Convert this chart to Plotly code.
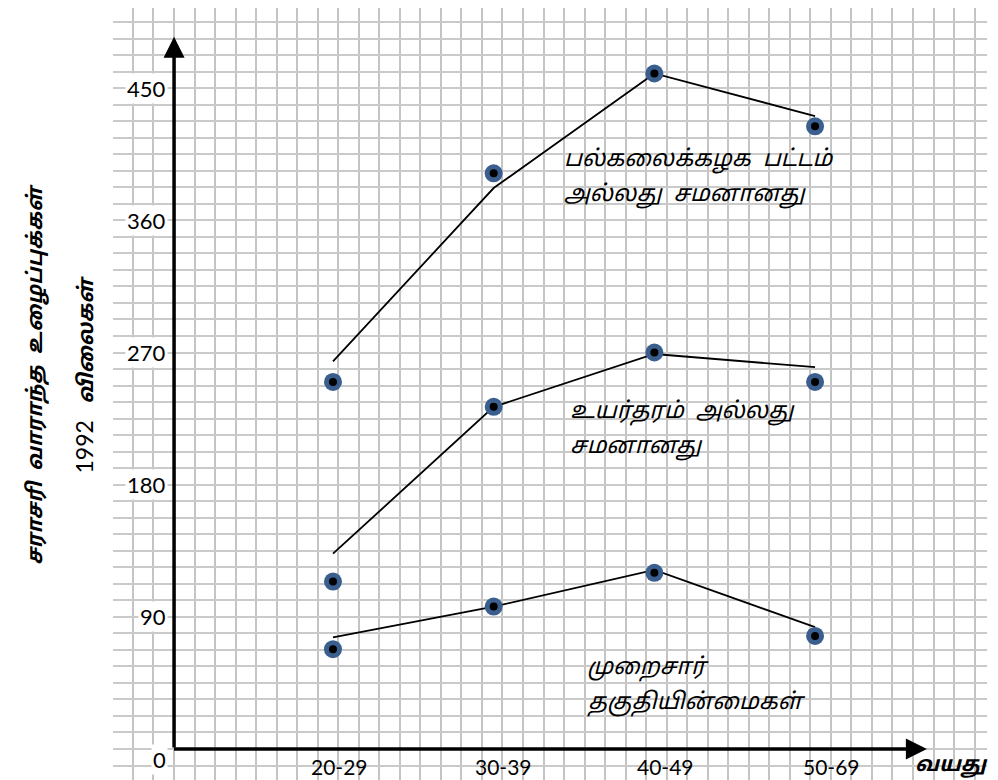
import plotly.graph_objects as go

# data
age_groups = ["20-29", "30-39", "40-49", "50-69"]
y_ticks = [0, 90, 180, 270, 360, 450]

degree_points = [250, 392, 460, 424]
degree_line = [264, 382, 460, 431]
highschool_points = [114, 233, 270, 250]
highschool_line = [133, 233, 269, 260]
noqual_points = [68, 97, 120, 77]
noqual_line = [76, 97, 122, 83]

series_labels = [
    ["பல்கலைக்கழக  பட்டம்", "அல்லது  சமனானது"],
    ["உயர்தரம்  அல்லது", "சமனானது"],
    ["முறைசார்", "தகுதியின்மைகள்"],
]
y_title = ["சராசரி  வாராந்த  உழைப்புக்கள்", "1992", "விலைகள்"]
x_title = "வயது"

xs = list(range(len(age_groups)))
blue = "#3a5f8e"
tamil_font = "Noto Sans Tamil, Latha, Noto Sans, DejaVu Sans, sans-serif"
num_font = "Lato, Open Sans, sans-serif"

fig = go.Figure()
for pts, ln in [(degree_points, degree_line),
                (highschool_points, highschool_line),
                (noqual_points, noqual_line)]:
    fig.add_trace(go.Scatter(x=xs, y=ln, mode="lines",
                             line=dict(color="black", width=1.8),
                             showlegend=False, hoverinfo="skip"))
    fig.add_trace(go.Scatter(x=xs, y=pts, mode="markers",
                             marker=dict(size=18, color=blue, line=dict(width=0)),
                             showlegend=False))
    fig.add_trace(go.Scatter(x=xs, y=pts, mode="markers",
                             marker=dict(size=8, color="black", line=dict(width=0)),
                             showlegend=False, hoverinfo="skip"))

# axis arrows
x0, x_end = -0.989, 3.696
y_end = 485
fig.add_annotation(x=x0, y=y_end, ax=x0, ay=0, xref="x", yref="y",
                   axref="x", ayref="y", text="", showarrow=True,
                   arrowhead=2, arrowsize=1.2, arrowwidth=3.5, arrowcolor="black")
fig.add_annotation(x=x_end, y=0, ax=x0 - 0.01, ay=0, xref="x", yref="y",
                   axref="x", ayref="y", text="", showarrow=True,
                   arrowhead=2, arrowsize=1.2, arrowwidth=3.5, arrowcolor="black")

# y tick labels
for t in y_ticks:
    fig.add_annotation(x=-1.027, y=t, xref="x", yref="y", text=str(t),
                       showarrow=False, xanchor="right", yanchor="middle",
                       yshift=-10 if t == 0 else 0, bgcolor="white",
                       font=dict(family=num_font, size=22, color="black"))

# x tick labels
label_shift = [0.04, 0.06, 0.07, 0.10]
for i, g in enumerate(age_groups):
    fig.add_annotation(x=i + label_shift[i], y=0, xref="x", yref="y", text=g,
                       showarrow=False, xanchor="center", yanchor="middle", yshift=-17,
                       borderpad=0, font=dict(family=num_font, size=21, color="black"))

fig.add_annotation(x=1.0, y=0, xref="paper", yref="y", text="<b><i>" + x_title + "</i></b>",
                   showarrow=False, xanchor="right", yanchor="top", yshift=-2, xshift=3,
                   font=dict(family=tamil_font, size=21, color="black"))

# series labels
label_pos = [(1.425, 401, 377), (1.462, 229, 205), (1.568, 55, 31)]
for (lx, ly1, ly2), lines in zip(label_pos, series_labels):
    for ly, txt in zip((ly1, ly2), lines):
        fig.add_annotation(x=lx, y=ly, xref="x", yref="y", text="<i>" + txt + "</i>",
                           showarrow=False, xanchor="left", yanchor="middle",
                           font=dict(family=tamil_font, size=23, color="black"))

# y axis title (two lines)
fig.add_annotation(x=-0.104, y=0.5246, xref="paper", yref="paper", textangle=-90,
                   text="<b><i>" + y_title[0] + "</i></b>", showarrow=False,
                   font=dict(family=tamil_font, size=21, color="black"))
fig.add_annotation(x=-0.0526, y=0.5246, xref="paper", yref="paper", textangle=-90,
                   text="<span style='font-family:Lato;font-size:23px'>" + y_title[1]
                        + "</span>   <b><i>" + y_title[2] + "</i></b>",
                   showarrow=False,
                   font=dict(family=tamil_font, size=21, color="black"))

fig.update_xaxes(range=[-1.369, 4.070], showticklabels=False, ticks="",
                 showgrid=True, gridcolor="#c4c4c4", gridwidth=1.6,
                 tick0=-0.9894, dtick=0.12775, zeroline=False, showline=False)
fig.update_yaxes(range=[-21.1, 504.6], showticklabels=False, ticks="",
                 showgrid=True, gridcolor="#cacaca", gridwidth=1.6,
                 tick0=0, dtick=11.25, zeroline=False, showline=False)
# page body adds an 8px offset, so the figure is sized to end at the window edge
fig.update_layout(width=990, height=772, margin=dict(l=105, r=11, t=0, b=0),
                  plot_bgcolor="white", paper_bgcolor="white", showlegend=False)

fig.write_html("out.html")
